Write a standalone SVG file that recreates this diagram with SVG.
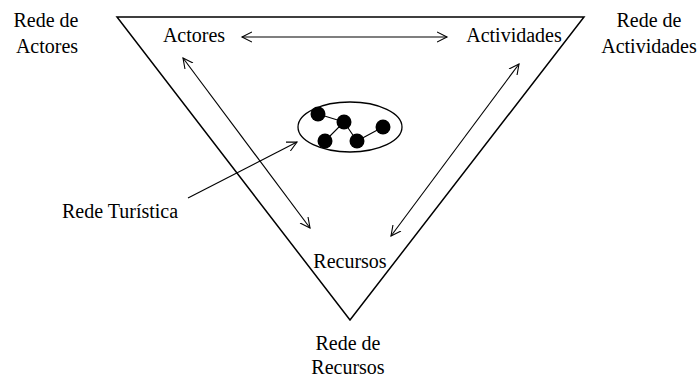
<svg xmlns="http://www.w3.org/2000/svg" width="699" height="378" viewBox="0 0 699 378">
<style>
text{font-family:"Liberation Serif","Times New Roman",serif;font-size:20px;fill:#000}
.c{text-anchor:middle}
.ln{stroke:#000;stroke-width:1.1;fill:none}
.tri{stroke:#000;stroke-width:1.5;fill:none;stroke-linejoin:miter}
.dot{fill:#000}
</style>
<defs>
<marker id="ah" markerWidth="12" markerHeight="12" refX="10" refY="5" orient="auto-start-reverse" markerUnits="userSpaceOnUse" viewBox="0 0 12 10">
<path d="M0,0 L10,5 L0,10" fill="none" stroke="#000" stroke-width="1.1"/>
</marker>
</defs>
<rect width="699" height="378" fill="#fff"/>
<g id="triangle"><path class="tri" d="M117,17 L584,17 L350,320 Z"/></g>
<g id="network">
<ellipse cx="350" cy="127" rx="52" ry="25" fill="none" stroke="#000" stroke-width="1.3"/>
<g class="ln"><path d="M318,114 L344,122 L325,141 M344,122 L357,141 L383,127"/></g>
<circle class="dot" cx="318" cy="114" r="7.5"/>
<circle class="dot" cx="344" cy="122" r="7.5"/>
<circle class="dot" cx="325" cy="141" r="7.5"/>
<circle class="dot" cx="357" cy="141" r="7.5"/>
<circle class="dot" cx="383" cy="127" r="7.5"/>
</g>
<g id="node-actores"><text class="c" x="194" y="42">Actores</text></g>
<g id="node-actividades"><text class="c" x="514" y="42">Actividades</text></g>
<g id="node-recursos"><text class="c" x="350" y="268">Recursos</text></g>
<g id="label-rede-actores"><text class="c" x="46" y="27">Rede de</text><text class="c" x="47" y="53">Actores</text></g>
<g id="label-rede-actividades"><text class="c" x="649" y="27">Rede de</text><text class="c" x="649" y="53">Actividades</text></g>
<g id="label-rede-recursos"><text class="c" x="348" y="350">Rede de</text><text class="c" x="348" y="374">Recursos</text></g>
<g id="label-rede-turistica"><text x="62" y="218">Rede Turística</text></g>
<g id="connectors" class="ln">
<line x1="242" y1="37" x2="447" y2="37" marker-start="url(#ah)" marker-end="url(#ah)"/>
<line x1="183" y1="58" x2="310" y2="228" marker-start="url(#ah)" marker-end="url(#ah)"/>
<line x1="519" y1="64" x2="391" y2="236" marker-start="url(#ah)" marker-end="url(#ah)"/>
<line x1="188" y1="198" x2="297" y2="142" marker-end="url(#ah)"/>
</g>
</svg>
